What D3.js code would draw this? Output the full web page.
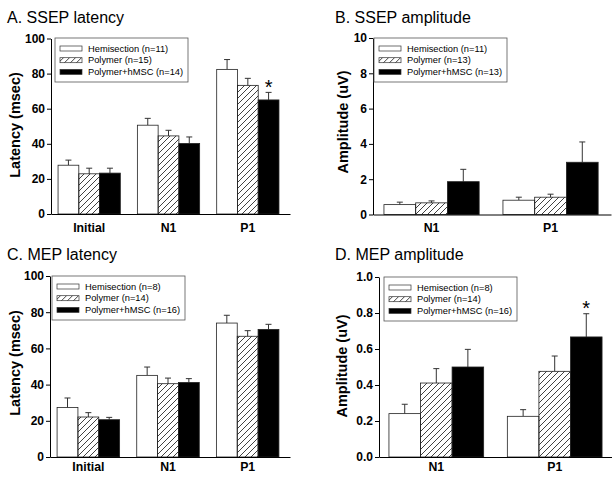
<!DOCTYPE html>
<html>
<head>
<meta charset="utf-8">
<script src="https://cdn.jsdelivr.net/npm/d3@7"></script>
<style>
  body { margin: 0; background: #fff; }
  svg { display: block; font-family: "Liberation Sans", Arial, sans-serif; }
</style>
</head>
<body>
<svg id="chart" width="612" height="477"></svg>
<script>
// ---- data (rows follow seriesNames) ----
const seriesNames = ["Hemisection", "Polymer", "Polymer+hMSC"];
const latencyCategories = ["Initial", "N1", "P1"];
const amplitudeCategories = ["N1", "P1"];

const ssepLatencyMean = [[27.8, 50.6, 82.4], [22.9, 44.5, 73.3], [23.3, 40.2, 65.0]];
const ssepLatencyErr  = [[2.9, 3.9, 5.6], [3.2, 3.2, 4.0], [2.8, 3.7, 4.3]];
const ssepLatencyN    = [11, 15, 14];

const ssepAmpMean = [[0.56, 0.81], [0.66, 0.98], [1.86, 2.96]];
const ssepAmpErr  = [[0.14, 0.17], [0.11, 0.17], [0.70, 1.15]];
const ssepAmpN    = [11, 13, 13];

const mepLatencyMean = [[27.3, 45.1, 74.0], [22.1, 40.5, 66.7], [20.6, 41.2, 70.5]];
const mepLatencyErr  = [[5.3, 4.6, 4.3], [2.4, 3.1, 3.1], [1.3, 2.1, 2.8]];
const mepLatencyN    = [8, 14, 16];

const mepAmpMean = [[0.241, 0.226], [0.411, 0.476], [0.500, 0.667]];
const mepAmpErr  = [[0.052, 0.037], [0.080, 0.085], [0.098, 0.129]];
const mepAmpN    = [8, 14, 16];

const latencyTicks = [0, 20, 40, 60, 80, 100];
const ssepAmpTicks = [0, 2, 4, 6, 8, 10];
const mepAmpTicks  = [0, 0.2, 0.4, 0.6, 0.8, 1.0];

// significance markers: [category, series index]
const ssepLatencySig = [["P1", 2]];
const mepAmpSig      = [["P1", 2]];

const svg = d3.select("#chart");

// hatch pattern for the Polymer series
const defs = svg.append("defs");
defs.append("pattern")
    .attr("id", "hatch")
    .attr("patternUnits", "userSpaceOnUse")
    .attr("width", 6).attr("height", 6)
  .append("path")
    .attr("d", "M-1,1 l2,-2 M0,6 l6,-6 M5,7 l2,-2")
    .attr("stroke", "#111")
    .attr("stroke-width", 0.8);

const fills = ["#fff", "url(#hatch)", "#000"];

// panel layout (pixel geometry of each plot)
const panels = [
    {title: "A. SSEP latency", titleX: 7, titleY: 23, yTitle: "Latency (msec)", yTitleX: 20, yTitleY: 125,
     categories: latencyCategories, mean: ssepLatencyMean, err: ssepLatencyErr, n: ssepLatencyN, sig: ssepLatencySig,
     yDomain: [0, 100], ticks: latencyTicks, fmt: d3.format("d"),
     left: 51, right: 290, top: 38.5, bottom: 214, padInner: 0.215, padOuter: 0.114, align: 0.39, xPad: 9,
     legX: 55, legY: 38},
    {title: "B. SSEP amplitude", titleX: 335, titleY: 23, yTitle: "Amplitude (uV)", yTitleX: 348, yTitleY: 122,
     categories: amplitudeCategories, mean: ssepAmpMean, err: ssepAmpErr, n: ssepAmpN, sig: [],
     yDomain: [0, 10], ticks: ssepAmpTicks, fmt: d3.format("d"),
     left: 373, right: 611, top: 38, bottom: 214.5, padInner: 0.2, padOuter: 0.1, align: 0.46, xPad: 9,
     legX: 374, legY: 38},
    {title: "C. MEP latency", titleX: 7, titleY: 260, yTitle: "Latency (msec)", yTitleX: 20, yTitleY: 363,
     categories: latencyCategories, mean: mepLatencyMean, err: mepLatencyErr, n: mepLatencyN, sig: [],
     yDomain: [0, 100], ticks: latencyTicks, fmt: d3.format("d"),
     left: 50, right: 290, top: 276, bottom: 457, padInner: 0.215, padOuter: 0.114, align: 0.39, xPad: 5.5,
     legX: 52, legY: 276},
    {title: "D. MEP amplitude", titleX: 335, titleY: 260, yTitle: "Amplitude (uV)", yTitleX: 347, yTitleY: 366,
     categories: amplitudeCategories, mean: mepAmpMean, err: mepAmpErr, n: mepAmpN, sig: mepAmpSig,
     yDomain: [0, 1], ticks: mepAmpTicks, fmt: d3.format(".1f"),
     left: 379, right: 612, top: 277, bottom: 457, padInner: 0.2, padOuter: 0.084, align: 0.5, xPad: 5.5,
     legX: 384, legY: 277}
];

panels.forEach(drawPanel);

function drawPanel(p) {
    const g = svg.append("g");

    const x = d3.scaleBand()
        .domain(p.categories)
        .range([p.left, p.right])
        .paddingInner(p.padInner)
        .paddingOuter(p.padOuter)
        .align(p.align);

    const xs = d3.scaleBand()
        .domain(d3.range(seriesNames.length))
        .range([0, x.bandwidth()]);

    const y = d3.scaleLinear()
        .domain(p.yDomain)
        .range([p.bottom, p.top]);

    // flatten to one record per bar
    const rows = [];
    p.mean.forEach((vals, s) => vals.forEach((v, c) => {
        rows.push({s: s, cat: p.categories[c], v: v, e: p.err[s][c]});
    }));

    const cx = d => x(d.cat) + xs(d.s) + xs.bandwidth() / 2;

    // error bars (upper half only)
    const eb = g.append("g")
        .attr("stroke", "#333")
        .attr("stroke-width", 1);

    eb.selectAll("line.stem").data(rows).join("line")
        .attr("class", "stem")
        .attr("x1", cx).attr("x2", cx)
        .attr("y1", d => y(d.v)).attr("y2", d => y(d.v + d.e));

    eb.selectAll("line.cap").data(rows).join("line")
        .attr("class", "cap")
        .attr("x1", d => cx(d) - 3).attr("x2", d => cx(d) + 3)
        .attr("y1", d => y(d.v + d.e)).attr("y2", d => y(d.v + d.e));

    // bars
    g.append("g").selectAll("rect").data(rows).join("rect")
        .attr("x", d => x(d.cat) + xs(d.s))
        .attr("width", xs.bandwidth())
        .attr("y", d => y(d.v))
        .attr("height", d => y(0) - y(d.v))
        .attr("fill", d => fills[d.s])
        .attr("stroke", "#222")
        .attr("stroke-width", 0.8);

    // significance asterisks
    const sigRows = p.sig.map(([cat, s]) => rows.find(r => r.cat === cat && r.s === s));
    g.selectAll("text.sig").data(sigRows).join("text")
        .attr("class", "sig")
        .attr("x", cx)
        .attr("y", d => y(d.v + d.e) + 1.5)
        .attr("text-anchor", "middle")
        .attr("font-size", 20)
        .text("*");

    // axes
    const yAxisG = g.append("g")
        .attr("transform", `translate(${p.left},0)`)
        .call(d3.axisLeft(y).tickValues(p.ticks).tickFormat(p.fmt)
            .tickSize(4).tickSizeOuter(0).tickPadding(2));

    const xAxisG = g.append("g")
        .attr("transform", `translate(0,${p.bottom})`)
        .call(d3.axisBottom(x).tickSize(0).tickSizeOuter(0).tickPadding(p.xPad));

    [yAxisG, xAxisG].forEach(a => {
        a.attr("font-family", null)
         .attr("font-size", 12.3)
         .attr("font-weight", "bold");
        a.selectAll("text").attr("fill", "#000");
        a.selectAll("path, line").attr("stroke", "#000");
    });
    yAxisG.attr("font-size", 12);

    // titles
    g.append("text")
        .attr("x", p.titleX).attr("y", p.titleY)
        .attr("font-size", 16)
        .text(p.title);

    g.append("text")
        .attr("transform", `translate(${p.yTitleX},${p.yTitleY}) rotate(-90)`)
        .attr("text-anchor", "middle")
        .attr("font-size", 14.5)
        .attr("font-weight", "bold")
        .text(p.yTitle);

    // legend
    const leg = g.append("g").attr("transform", `translate(${p.legX},${p.legY})`);
    leg.append("rect")
        .attr("width", 133).attr("height", 44)
        .attr("fill", "#fff")
        .attr("stroke", "#555")
        .attr("stroke-width", 0.8);

    const item = leg.selectAll("g.item").data(seriesNames).join("g")
        .attr("class", "item")
        .attr("transform", (d, i) => `translate(0,${10.5 + i * 11.7})`);

    item.append("rect")
        .attr("x", 5).attr("y", -2.5)
        .attr("width", 22).attr("height", 5)
        .attr("fill", (d, i) => fills[i])
        .attr("stroke", "#333")
        .attr("stroke-width", 0.7);

    item.append("text")
        .attr("x", 33)
        .attr("dy", "0.35em")
        .attr("font-size", 9.3)
        .text((d, i) => `${d} (n=${p.n[i]})`);
}
</script>
</body>
</html>
